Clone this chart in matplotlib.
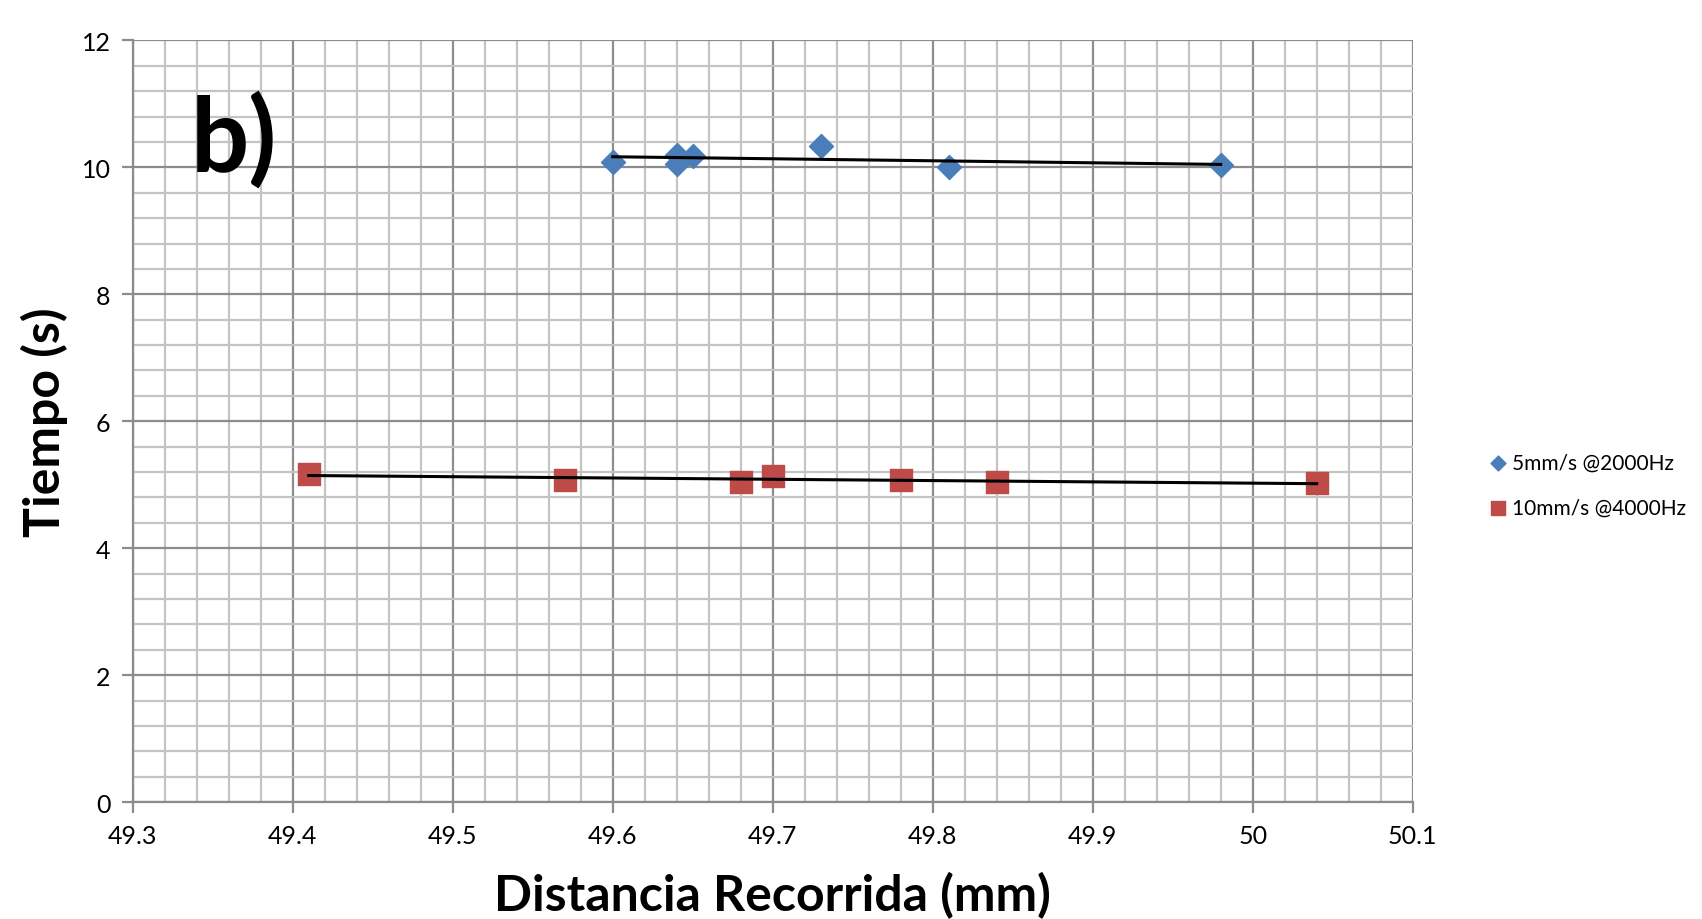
import numpy as np
import matplotlib.pyplot as plt
from matplotlib.ticker import MultipleLocator

plt.rcParams['font.family'] = ['Lato', 'DejaVu Sans']

# Datos
dist_5 = [49.60, 49.64, 49.64, 49.65, 49.73, 49.81, 49.98]
tiempo_5 = [10.09, 10.20, 10.06, 10.18, 10.34, 10.00, 10.03]
dist_10 = [49.41, 49.57, 49.68, 49.70, 49.78, 49.84, 50.04]
tiempo_10 = [5.17, 5.07, 5.05, 5.14, 5.08, 5.05, 5.02]

fig = plt.figure(figsize=(17.02, 9.2), dpi=100)
ax = fig.add_axes([0.078, 0.127, 0.752, 0.828])

ax.scatter(dist_5, tiempo_5, marker='D', s=150, color='#4a7ebb', zorder=3,
           label='5mm/s @2000Hz')
ax.scatter(dist_10, tiempo_10, marker='s', s=260, color='#be4b48', zorder=3,
           label='10mm/s @4000Hz')

# lineas de tendencia
for xs, ys in [(dist_5, tiempo_5), (dist_10, tiempo_10)]:
    m, b = np.polyfit(xs, ys, 1)
    xx = np.array([min(xs), max(xs)])
    ax.plot(xx, m * xx + b, color='black', lw=2.2, zorder=4)

ax.set_xlim(49.3, 50.1)
ax.set_ylim(0, 12)
ax.xaxis.set_major_locator(MultipleLocator(0.1))
ax.xaxis.set_minor_locator(MultipleLocator(0.02))
ax.yaxis.set_major_locator(MultipleLocator(2))
ax.yaxis.set_minor_locator(MultipleLocator(0.4))
ax.set_xticks(np.arange(49.3, 50.11, 0.1))
ax.set_xticklabels(['49.3', '49.4', '49.5', '49.6', '49.7', '49.8', '49.9', '50', '50.1'])

ax.grid(which='major', color='#8c8c8c', lw=1.6, zorder=0)
ax.grid(which='minor', color='#c4c4c4', lw=1.6, zorder=0)
ax.set_axisbelow(True)
for s in ax.spines.values():
    s.set_visible(False)
ax.spines['left'].set_visible(True)
ax.spines['bottom'].set_visible(True)
ax.spines['left'].set_color('#8c8c8c')
ax.spines['bottom'].set_color('#8c8c8c')
ax.spines['left'].set_linewidth(1.6)
ax.spines['bottom'].set_linewidth(1.6)
ax.tick_params(which='major', direction='out', length=8, width=1.6, color='#8c8c8c',
               labelsize=18, pad=8)
ax.tick_params(which='minor', length=0)

ax.set_xlabel('Distancia Recorrida (mm)', fontsize=36, fontweight='bold', labelpad=17)
ax.set_ylabel('Tiempo (s)', fontsize=36, fontweight='bold', labelpad=10)

ax.text(0.045, 0.935, 'b)', transform=ax.transAxes, fontsize=74, fontweight='bold',
        va='top', ha='left')

fig.legend(loc='center left', bbox_to_anchor=(0.868, 0.472), frameon=False,
           fontsize=15, handletextpad=0.15, labelspacing=1.2, borderpad=0,
           markerscale=0.62, handlelength=1.0)

fig.savefig('out.png', dpi=100)
